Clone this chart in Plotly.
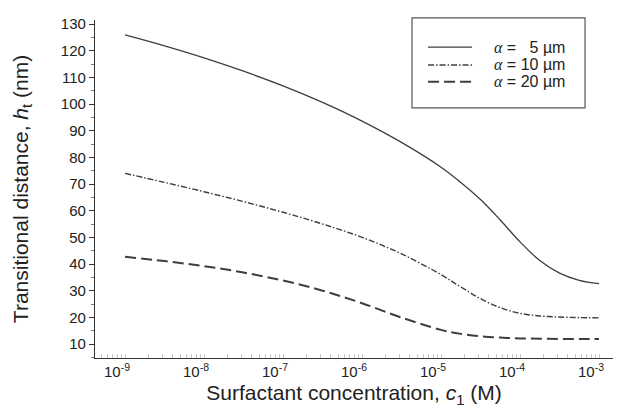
import plotly.graph_objects as go

# log10 of surfactant concentration c1 (M)
log_c = [-9, -8.5, -8, -7.5, -7, -6.5, -6, -5.5, -5, -4.75, -4.5, -4.25, -4, -3.75, -3.5, -3.25, -3]
h_5um = [125.9, 121.8, 117.3, 112.3, 106.8, 100.6, 93.6, 85.6, 76.3, 70.6, 64.2, 56.5, 48.3, 41.3, 36.6, 33.9, 32.6]
h_10um = [74.0, 70.6, 67.1, 63.4, 59.4, 55.0, 50.0, 43.8, 36.0, 31.4, 27.0, 23.6, 21.5, 20.5, 20.1, 19.9, 19.8]
h_20um = [42.7, 41.1, 39.2, 36.8, 33.8, 30.0, 25.3, 19.9, 15.3, 13.8, 12.9, 12.4, 12.1, 12.0, 11.9, 11.9, 11.9]

series_names = ["α = \u20075 µm", "α = 10 µm", "α = 20 µm"]
x_tick_exps = [-9, -8, -7, -6, -5, -4, -3]
y_ticks = list(range(10, 131, 10))

c = [10 ** v for v in log_c]

line_col = "#3a3f44"
styles = [
    dict(color=line_col, width=1.3, dash="solid"),
    dict(color=line_col, width=1.4, dash="6px,2px,1.5px,2px"),
    dict(color=line_col, width=2.0, dash="11px,5px"),
]

fig = go.Figure()
for ys, name, st in zip([h_5um, h_10um, h_20um], series_names, styles):
    fig.add_trace(go.Scatter(x=c, y=ys, mode="lines", name=name, showlegend=False,
                             line=dict(shape="spline", smoothing=1.0, **st)))

# legend drawn as a framed key (paper coordinates)
leg_rows = [0.920, 0.867, 0.817]
shapes = [dict(type="rect", xref="paper", yref="paper",
               x0=0.612, x1=0.946, y0=0.740, y1=1.006,
               line=dict(color="#555", width=1.2), fillcolor="rgba(0,0,0,0)")]
annotations = []
for yr, name, st in zip(leg_rows, series_names, styles):
    shapes.append(dict(type="line", xref="paper", yref="paper",
                       x0=0.643, x1=0.728, y0=yr, y1=yr,
                       line=dict(color=st["color"], width=st["width"], dash=st["dash"])))
    greek, rest = name.split(" ", 1)
    annotations.append(dict(
        xref="paper", yref="paper", x=0.766, y=yr, xanchor="left", yanchor="middle",
        showarrow=False,
        text=f"<i><span style='font-family:Liberation Serif'>{greek}</span></i> {rest}",
        font=dict(size=16, color="#222")))

fig.update_layout(
    width=622, height=412,
    margin=dict(l=95, r=9, t=20, b=54),
    paper_bgcolor="white", plot_bgcolor="white",
    font=dict(family="Liberation Sans, Arial, sans-serif", color="#222", size=15),
    showlegend=False,
    shapes=shapes,
    annotations=annotations,
)

fig.update_xaxes(
    type="log", range=[-9.38, -2.823],
    tickvals=[10 ** e for e in x_tick_exps],
    ticktext=[f"10<sup>{e}</sup>" for e in x_tick_exps],
    ticklabelshift=-8,
    ticks="", showgrid=False, zeroline=False,
    showline=True, linecolor="#333", linewidth=1.3,
    tickfont=dict(size=15),
    minor=dict(dtick="D1", ticks="inside", ticklen=4, tickcolor="#c8c8c8", showgrid=False),
    title=dict(text="Surfactant concentration, <i>c</i><sub>1</sub> (M)", font=dict(size=21), standoff=6),
)
fig.update_yaxes(
    range=[4.75, 131.5],
    tickvals=y_ticks,
    ticks="outside", ticklen=5, tickcolor="#333", tickwidth=1,
    showgrid=False, zeroline=False,
    showline=True, linecolor="#333", linewidth=1.3,
    tickfont=dict(size=15),
    minor=dict(dtick=5, ticks="outside", ticklen=3, tickcolor="#777", showgrid=False),
    title=dict(text="Transitional distance, <i>h</i><sub>t</sub> (nm)", font=dict(size=21), standoff=26),
)

fig.write_html("out.html")
